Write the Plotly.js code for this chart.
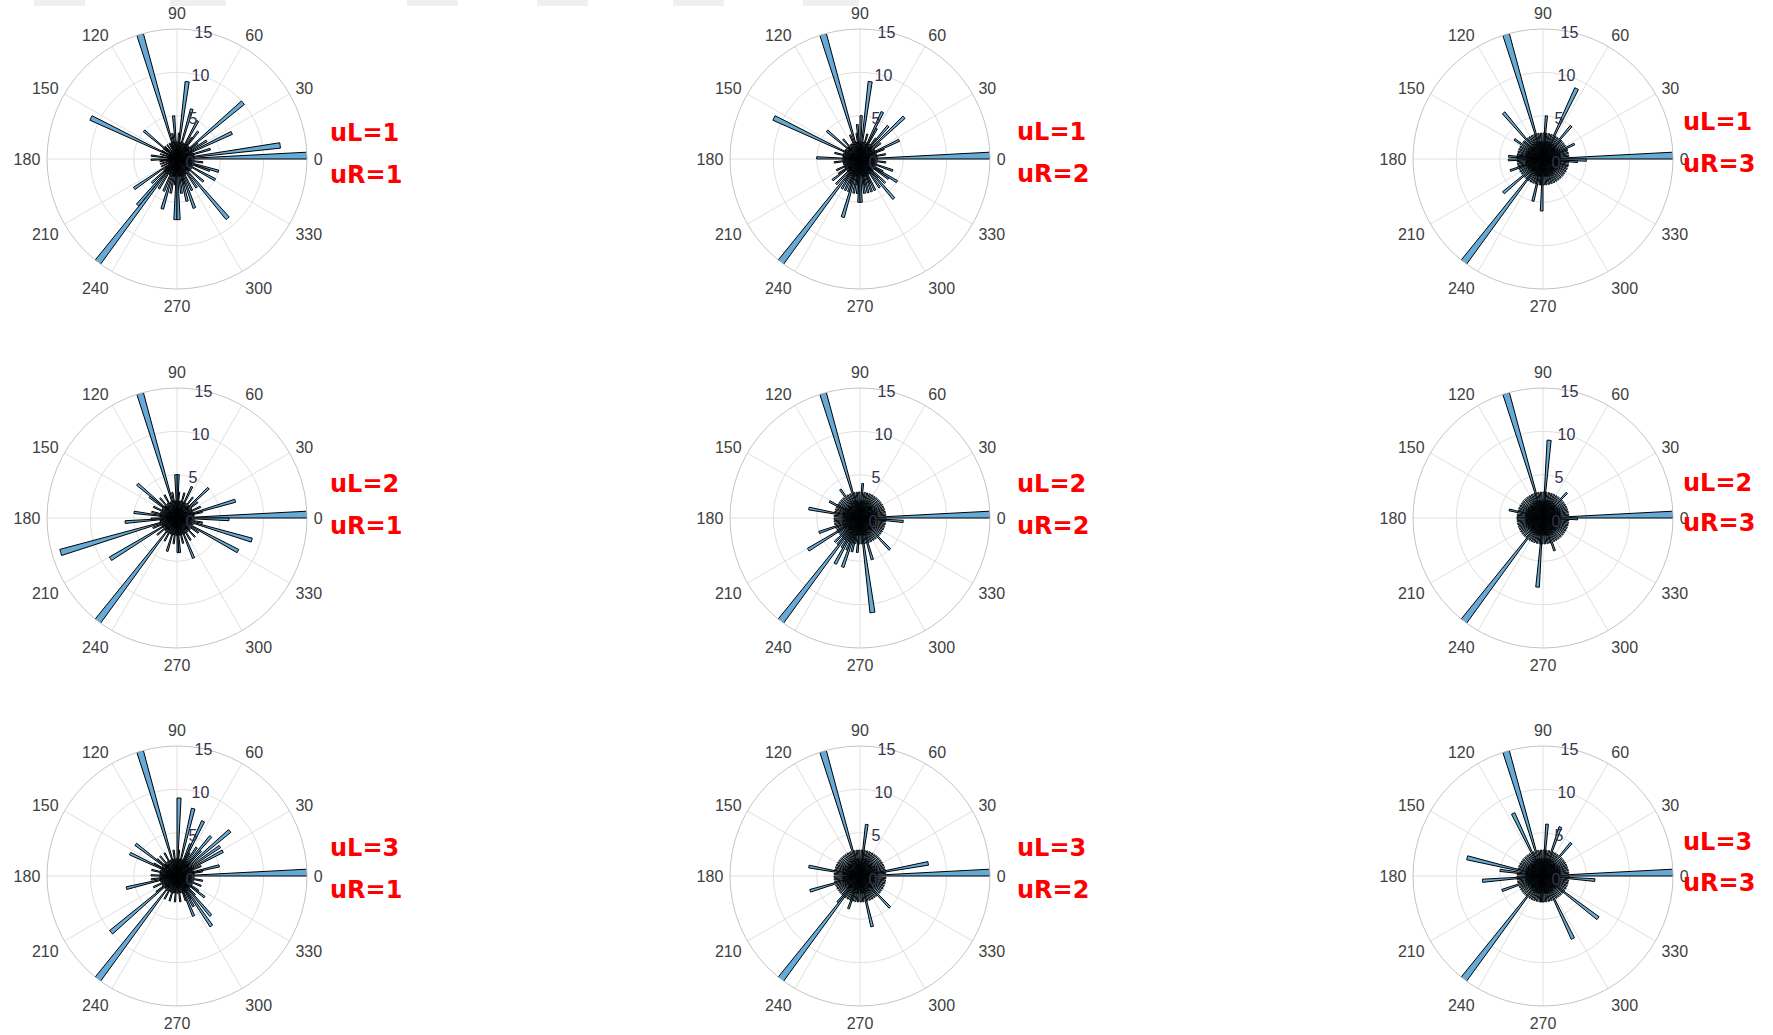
<!DOCTYPE html>
<html>
<head>
<meta charset="utf-8">
<script src="https://cdn.plot.ly/plotly-3.0.1.min.js"></script>
<style>
html,body{margin:0;padding:0;background:#fff;}
#chart{width:1773px;height:1035px;}
</style>
</head>
<body>
<div id="chart"></div>
<script>
// ---- data: counts per 3-degree bin (bin i covers [3i, 3i+3] degrees) ----
const binWidth = 3;
const angleTicks = [0, 30, 60, 90, 120, 150, 180, 210, 240, 270, 300, 330];
const radialTicks = [0, 5, 10, 15];

const uL1_uR1 = [
 15,2,12,1,2,4,2,1,7,2,
 4,1,3,10,2,1,2,4,3,2,
 5,1,2,1,6,2,1,9,3,1,
 2,5,1,3,1,15,2,1,2,1,
 1,2,1,1,2,1,5,2,1,1,
 2,11,1,1,2,1,1,3,1,1,
 3,1,2,1,1,2,1,1,2,1,
 1,6,1,2,4,2,7,15,2,4,
 1,2,4,1,6,2,4,2,3,7,
 7,2,4,2,5,3,6,2,4,2,
 2,4,1,9,1,2,4,2,1,2,
 5,2,1,4,5,2,1,3,2,1];
const uL1_uR2 = [
 15,2,1,3,1,2,1,3,5,2,
 1,2,3,1,7,2,5,3,1,2,
 4,6,2,1,3,1,2,9,1,5,
 2,4,3,1,2,15,1,3,1,2,
 1,2,1,3,1,2,5,1,2,1,
 2,11,1,2,1,3,1,2,1,5,
 2,1,3,1,2,1,2,1,3,2,
 1,3,4,2,1,4,2,15,3,4,
 2,4,3,4,7,2,4,3,4,5,
 5,2,4,3,4,2,4,3,4,2,
 2,4,2,6,3,4,2,1,4,5,
 3,1,2,4,1,2,1,3,1,2];
const uL1_uR3 = [
 15,2,3,2,3,2,3,3,4,2,
 3,2,3,2,3,3,5,2,3,2,
 3,9,2,3,2,3,2,3,5,3,
 2,3,2,3,2,15,3,2,3,2,
 3,2,3,7,2,3,3,2,4,2,
 3,2,3,2,3,2,3,3,4,3,
 4,3,2,3,2,3,4,3,2,3,
 2,3,2,6,3,2,3,15,3,2,
 3,2,3,2,3,5,2,3,3,6,
 3,2,3,2,3,2,3,2,3,2,
 3,2,3,2,3,2,3,2,3,2,
 3,2,3,2,3,3,2,3,4,5];
const uL2_uR1 = [
 15,1,2,1,3,7,2,1,3,1,
 2,1,3,1,5,2,1,3,1,2,
 1,4,2,1,3,1,2,1,3,5,
 5,2,1,3,1,15,1,2,1,3,
 1,2,1,3,1,2,6,4,1,2,
 1,3,1,2,1,3,1,5,2,1,
 3,6,1,2,1,14,1,3,1,2,
 9,2,1,3,1,2,1,15,2,1,
 3,1,2,1,4,2,1,3,1,2,
 4,4,2,1,3,2,1,5,2,1,
 3,1,2,1,3,1,2,1,3,1,
 8,1,2,1,9,1,3,1,2,6];
const uL2_uR2 = [
 15,2,3,1,3,2,3,1,3,2,
 3,1,3,2,3,1,3,2,3,1,
 3,2,3,1,3,2,3,1,4,2,
 3,1,3,2,3,15,2,3,1,3,
 2,4,1,3,2,3,1,3,2,3,
 4,3,1,3,2,3,6,1,3,2,
 3,1,3,2,3,1,5,3,2,3,
 7,3,2,3,4,3,4,15,3,4,
 6,3,4,6,3,4,3,2,4,3,
 2,3,11,3,2,5,3,2,3,2,
 3,1,3,2,5,3,1,3,2,3,
 2,3,1,3,2,3,1,3,5,3];
const uL2_uR3 = [
 15,2,3,2,3,2,3,2,3,2,
 3,2,3,2,3,4,2,3,2,3,
 2,3,2,3,2,3,2,3,9,3,
 2,3,2,3,2,15,3,2,3,2,
 3,2,3,2,3,2,3,2,3,2,
 3,2,3,2,3,4,2,3,2,3,
 3,2,3,2,3,2,3,2,3,2,
 3,2,3,2,3,2,3,15,2,3,
 2,3,2,3,2,3,2,3,8,3,
 2,3,2,3,2,3,4,2,3,2,
 3,2,3,2,3,2,3,2,3,2,
 3,2,3,2,3,2,3,2,3,4];
const uL3_uR1 = [
 15,2,1,3,5,2,1,3,2,6,
 2,6,1,8,2,4,6,2,4,2,
 3,7,4,2,1,8,2,1,3,9,
 2,1,3,1,2,15,1,2,1,3,
 1,2,1,3,1,2,3,6,1,2,
 3,6,1,2,1,3,1,2,1,3,
 2,1,3,2,6,1,2,1,3,1,
 2,1,3,10,1,2,1,15,2,1,
 3,1,2,1,3,1,2,1,3,1,
 2,1,3,1,2,1,3,5,2,4,
 3,7,2,6,3,1,2,4,3,1,
 2,1,3,1,2,1,3,1,2,1];
const uL3_uR2 = [
 15,2,3,8,3,1,3,2,3,1,
 3,2,3,1,3,2,3,1,3,2,
 3,1,3,2,3,1,3,6,3,1,
 3,2,3,1,3,15,2,3,1,3,
 2,3,1,3,2,3,1,3,2,3,
 1,3,2,3,1,3,6,2,3,1,
 3,2,3,1,3,6,2,3,1,3,
 2,3,1,3,2,3,4,15,3,1,
 3,2,3,4,3,1,3,2,3,1,
 3,2,3,1,6,3,2,3,1,3,
 2,3,1,3,5,2,3,1,3,2,
 3,1,3,2,3,1,3,2,3,1];
const uL3_uR3 = [
 15,2,3,2,3,2,3,2,3,2,
 3,2,3,2,3,2,5,2,3,2,
 3,2,3,6,2,3,2,3,6,3,
 2,3,2,3,2,15,2,3,8,2,
 3,2,3,2,3,2,3,2,3,2,
 3,2,3,2,3,9,2,5,3,2,
 3,7,3,2,3,2,5,2,3,2,
 3,2,3,2,3,2,3,15,2,3,
 2,3,2,3,2,3,2,3,3,3,
 3,2,3,2,3,2,3,2,8,2,
 3,2,3,2,3,2,3,8,3,2,
 3,2,3,2,3,2,3,2,6,3];

const panels = [
  {vals: uL1_uR1, uL: 'uL=1', uR: 'uR=1'},
  {vals: uL1_uR2, uL: 'uL=1', uR: 'uR=2'},
  {vals: uL1_uR3, uL: 'uL=1', uR: 'uR=3'},
  {vals: uL2_uR1, uL: 'uL=2', uR: 'uR=1'},
  {vals: uL2_uR2, uL: 'uL=2', uR: 'uR=2'},
  {vals: uL2_uR3, uL: 'uL=2', uR: 'uR=3'},
  {vals: uL3_uR1, uL: 'uL=3', uR: 'uR=1'},
  {vals: uL3_uR2, uL: 'uL=3', uR: 'uR=2'},
  {vals: uL3_uR3, uL: 'uL=3', uR: 'uR=3'}
];

// ---- layout geometry (pixels) ----
const W = 1773, H = 1035, R = 130;
const colX = [177, 860, 1543];
const rowY = [159, 518, 876];
// label positions (left edge x, center y of first line, center y of second line) per panel
const labelPos = [
  [328,133,175],[1015,132,174],[1681,122,164],
  [328,484,526],[1015,484,526],[1681,483,523],
  [328,848,890],[1015,848,890],[1681,842,883]
];

const data = [];
const layout = {
  width: W, height: H,
  margin: {l:0, r:0, t:0, b:0},
  paper_bgcolor: '#ffffff',
  showlegend: false,
  font: {family: 'Liberation Sans, Arial, sans-serif', color: '#404040'},
  annotations: [],
  shapes: []
};

panels.forEach((p, k) => {
  const cx = colX[k % 3], cy = rowY[Math.floor(k / 3)];
  const key = k === 0 ? 'polar' : 'polar' + (k + 1);
  const theta = p.vals.map((v, i) => i * binWidth + binWidth / 2);
  data.push({
    type: 'barpolar',
    r: p.vals,
    theta: theta,
    width: p.vals.map(() => binWidth),
    subplot: key,
    marker: {color: '#66aad7', line: {color: '#000000', width: 1}},
    hoverinfo: 'skip'
  });
  layout[key] = {
    domain: {
      x: [(cx - R) / W, (cx + R) / W],
      y: [1 - (cy + R) / H, 1 - (cy - R) / H]
    },
    bgcolor: '#ffffff',
    bargap: 0,
    angularaxis: {
      direction: 'counterclockwise',
      rotation: 0,
      tickmode: 'array',
      tickvals: angleTicks,
      ticktext: angleTicks.map(String),
      ticks: 'outside',
      ticklen: 3,
      tickcolor: 'rgba(0,0,0,0)',
      showline: true,
      linecolor: '#c4c4c4',
      linewidth: 1,
      gridcolor: '#e0e0e0',
      gridwidth: 1,
      tickfont: {size: 16, color: '#404040', family: 'Liberation Sans, Arial, sans-serif'}
    },
    radialaxis: {
      range: [0, 15],
      angle: 86,
      tickangle: 86,
      tickmode: 'array',
      tickvals: radialTicks,
      ticktext: radialTicks.map(String),
      ticks: '',
      showline: false,
      gridcolor: '#e0e0e0',
      gridwidth: 1,
      tickfont: {size: 16, color: '#33334d', family: 'Liberation Sans, Arial, sans-serif'}
    }
  };
  const lp = labelPos[k];
  [[p.uL, lp[1]], [p.uR, lp[2]]].forEach(([txt, y]) => {
    layout.annotations.push({
      text: '<b>' + txt + '</b>',
      xref: 'paper', yref: 'paper',
      x: lp[0] / W, y: 1 - y / H,
      xanchor: 'left', yanchor: 'middle',
      showarrow: false,
      font: {family: 'DejaVu Sans, sans-serif', size: 24, color: '#ff0000'}
    });
  });
});

// faint grey remnants along the very top edge
const topBlobs = [[34,85],[170,226],[407,458],[537,588],[673,724],[803,859]];
topBlobs.forEach(([a, b]) => {
  layout.shapes.push({
    type: 'rect', xref: 'paper', yref: 'paper',
    x0: a / W, x1: b / W, y0: 1 - 6 / H, y1: 1,
    fillcolor: '#efefef', line: {width: 0}, layer: 'below'
  });
});

Plotly.newPlot('chart', data, layout, {staticPlot: true, displayModeBar: false});
</script>
</body>
</html>
